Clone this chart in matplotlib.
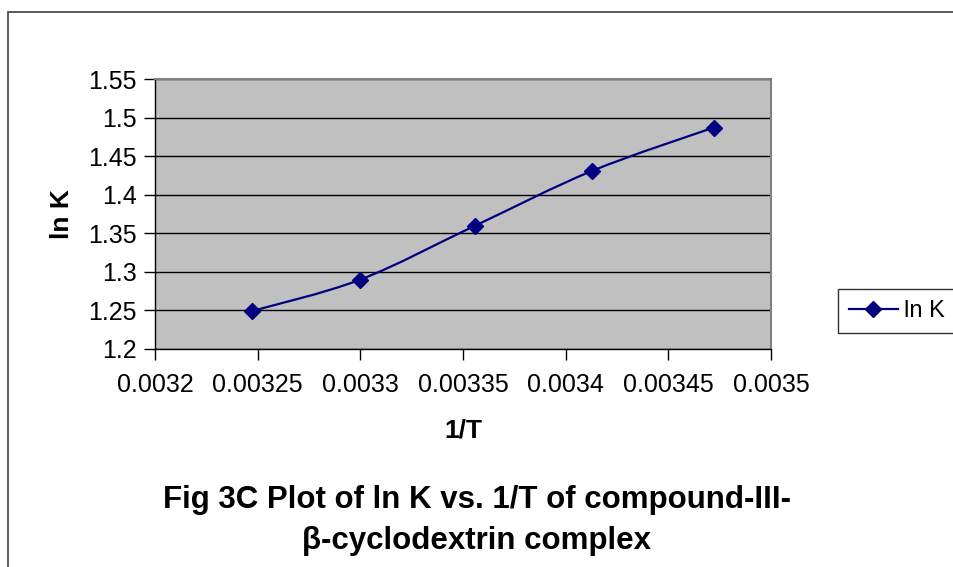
import numpy as np
import matplotlib.pyplot as plt
from matplotlib.path import Path
from matplotlib.patches import PathPatch, Rectangle
from matplotlib.lines import Line2D

plt.rcParams['font.family'] = ['Liberation Sans', 'DejaVu Sans']

#%% data
inv_T = [0.003247, 0.003300, 0.003356, 0.003413, 0.003472]
ln_K = [1.249, 1.290, 1.360, 1.431, 1.487]
x_ticks = [0.0032, 0.00325, 0.0033, 0.00335, 0.0034, 0.00345, 0.0035]
x_labels = ['0.0032', '0.00325', '0.0033', '0.00335', '0.0034', '0.00345', '0.0035']
y_ticks = [1.2, 1.25, 1.3, 1.35, 1.4, 1.45, 1.5, 1.55]
y_labels = ['1.2', '1.25', '1.3', '1.35', '1.4', '1.45', '1.5', '1.55']
navy = '#000080'

#%% figure
fig = plt.figure(figsize=(9.54, 5.67), dpi=100)
ax = fig.add_axes([155/954, 1-349/567, 616/954, 270/567])
ax.set_facecolor('#c0c0c0')

# smoothed line like excel (catmull-rom -> bezier)
pts = np.column_stack([inv_T, ln_K])
verts = [pts[0]]
codes = [Path.MOVETO]
n = len(pts)
for i in range(n-1):
    p0 = pts[i-1] if i > 0 else pts[i]
    p1 = pts[i]
    p2 = pts[i+1]
    p3 = pts[i+2] if i+2 < n else pts[i+1]
    verts += [p1 + (p2-p0)/6., p2 - (p3-p1)/6., p2]
    codes += [Path.CURVE4]*3
ax.add_patch(PathPatch(Path(verts, codes), facecolor='none', edgecolor=navy, lw=1.6, zorder=3))
ax.plot(inv_T, ln_K, linestyle='none', marker='D', markersize=8, color=navy, zorder=4)

ax.set_xlim(0.0032, 0.0035)
ax.set_ylim(1.2, 1.55)
ax.set_xticks(x_ticks)
ax.set_xticklabels(x_labels)
ax.set_yticks(y_ticks)
ax.set_yticklabels(y_labels)
ax.tick_params(axis='both', direction='out', length=8, width=1, color='black', labelsize=18, pad=5)
ax.tick_params(axis='x', pad=9)
ax.yaxis.grid(True, color='black', lw=1)
ax.set_axisbelow(True)
for s in ['top', 'right']:
    ax.spines[s].set_color('#808080')
    ax.spines[s].set_linewidth(1.5)
for s in ['left', 'bottom']:
    ax.spines[s].set_color('black')
    ax.spines[s].set_linewidth(1)

ax.set_xlabel('1/T', fontsize=19, fontweight='bold', labelpad=16)
ax.set_ylabel('ln K', fontsize=19, fontweight='bold', labelpad=10)

# legend, box runs off the right edge like the original
h = Line2D([], [], color=navy, marker='D', markersize=8, lw=1.6)
fig.legend([h], ['ln K'], loc='center left', bbox_to_anchor=(838/954, 1-311/567),
           fontsize=17, frameon=True, fancybox=False, edgecolor='black',
           handlelength=2.1, handletextpad=0.25, borderpad=0.45, borderaxespad=0)

# caption
fig.text(0.5, 1-500/567, 'Fig 3C Plot of ln K vs. 1/T of compound-III-', ha='center', va='center',
         fontsize=22.5, fontweight='bold')
fig.text(0.5, 1-541/567, '\u03b2-cyclodextrin complex', ha='center', va='center',
         fontsize=22.5, fontweight='bold')

# outer chart frame
fig.patches.append(Rectangle((8/954, -0.1), 1.2, 1-12/567+0.1, transform=fig.transFigure,
                             fill=False, edgecolor='#404040', lw=1.2))

fig.savefig('out.png', dpi=100)
